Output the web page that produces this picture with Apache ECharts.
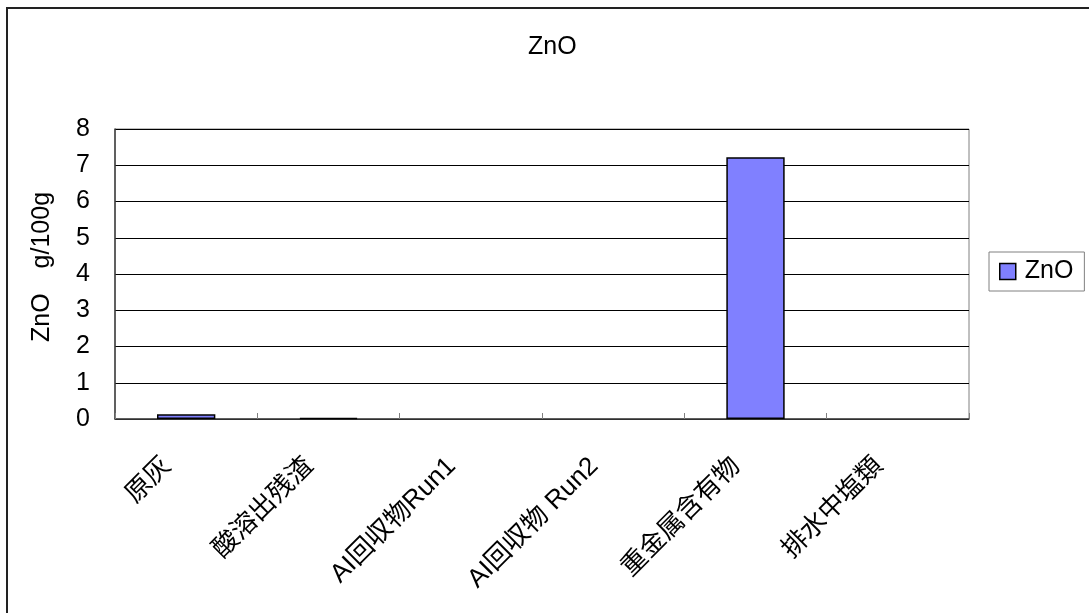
<!DOCTYPE html>
<html>
<head>
<meta charset="utf-8">
<script src="https://cdn.jsdelivr.net/npm/echarts@6/dist/echarts.min.js"></script>
<style>
html,body{margin:0;padding:0;background:#fff;}
#c{width:1089px;height:613px;}
</style>
</head>
<body>
<div id="c"></div>
<script>
var categories = ['原灰', '酸溶出残渣', 'AI回収物Run1', 'AI回収物 Run2', '重金属含有物', '排水中塩類'];
var znoValues = [0.13, 0.03, 0, 0, 7.22, 0];
var yTicks = [0, 1, 2, 3, 4, 5, 6, 7, 8];
var seriesName = 'ZnO';
var titleText = 'ZnO';
var yAxisName = 'ZnO\u3000g/100g';

var FONT = '"Liberation Sans", Arial, "Noto Sans CJK JP", sans-serif';
var chart = echarts.init(document.getElementById('c'), null, {renderer: 'canvas'});

var barData = znoValues.map(function (v) {
  return v === 0 ? {value: v, itemStyle: {borderWidth: 0, opacity: 0}} : v;
});

chart.setOption({
  animation: false,
  backgroundColor: '#ffffff',
  textStyle: {fontFamily: FONT},
  title: {
    text: titleText,
    left: 523,
    top: 30,
    textStyle: {fontFamily: FONT, fontSize: 25, fontWeight: 'normal', color: '#000'}
  },
  graphic: [{
    type: 'rect',
    shape: {x: 7, y: 8, width: 1200, height: 800},
    style: {fill: null, stroke: '#222', lineWidth: 2},
    silent: true,
    z: 100
  }],
  legend: {
    data: [{name: seriesName, icon: 'rect'}],
    left: 989,
    top: 252,
    orient: 'vertical',
    padding: [7, 11, 7, 10],
    itemWidth: 16,
    itemHeight: 16,
    itemGap: 8,
    borderColor: '#808080',
    borderWidth: 1,
    borderRadius: 0,
    textStyle: {fontFamily: FONT, fontSize: 25, color: '#000', padding: [0, 0, 0, 4]},
    itemStyle: {borderColor: '#000', borderWidth: 1.5}
  },
  grid: {
    left: 115,
    right: 120,
    top: 129,
    bottom: 194,
    show: true,
    borderColor: '#808080',
    borderWidth: 1,
    backgroundColor: 'transparent'
  },
  xAxis: {
    type: 'category',
    data: categories,
    axisLine: {show: true, lineStyle: {color: '#404040', width: 1.5}},
    axisTick: {show: true, inside: true, length: 6, alignWithLabel: false, lineStyle: {color: '#808080', width: 1}},
    axisLabel: {
      rotate: 45,
      interval: 0,
      margin: 24,
      padding: [0, 27, 0, 0],
      fontFamily: FONT,
      fontSize: 26,
      color: '#000'
    },
    splitLine: {show: false}
  },
  yAxis: {
    type: 'value',
    min: yTicks[0],
    max: yTicks[yTicks.length - 1],
    interval: 1,
    name: yAxisName,
    nameLocation: 'middle',
    nameGap: 60,
    nameRotate: 90,
    nameTextStyle: {fontFamily: FONT, fontSize: 25, color: '#000', padding: [0, 0, 0, 14]},
    axisLine: {show: true, lineStyle: {color: '#404040', width: 1.5}},
    axisTick: {show: false},
    axisLabel: {
      margin: 25,
      padding: [8, 0, 0, 0],
      fontFamily: FONT,
      fontSize: 25,
      color: '#000',
      formatter: function (v) { return yTicks.indexOf(v) >= 0 ? String(v) : ''; }
    },
    splitLine: {show: true, lineStyle: {color: '#000', width: 1}}
  },
  series: [{
    name: seriesName,
    type: 'bar',
    data: barData,
    barWidth: '41%',
    itemStyle: {color: '#8080FF', borderColor: '#000', borderWidth: 1.5}
  }]
});
</script>
</body>
</html>
